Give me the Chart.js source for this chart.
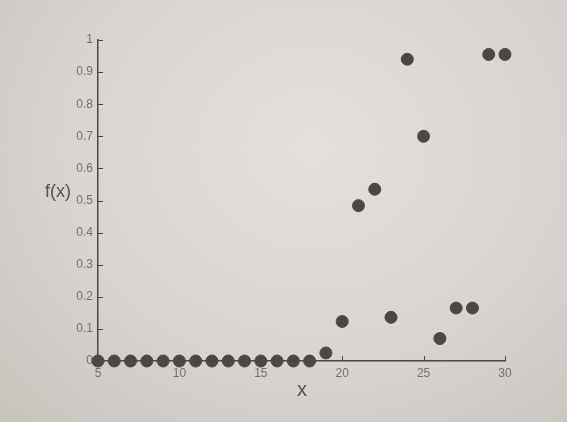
<!DOCTYPE html>
<html>
<head>
<meta charset="utf-8">
<script src="https://cdn.jsdelivr.net/npm/chart.js@4"></script>
<style>
  html, body { margin: 0; padding: 0; }
  body { width: 567px; height: 422px; overflow: hidden;
         background: radial-gradient(ellipse at 55% 35%, #e4e0dc 0%, #d9d4cf 55%, #c9c3be 100%); }
  #wrap { position: absolute; left: 0; top: 0; width: 567px; height: 422px; }
</style>
</head>
<body>
<div id="wrap"><canvas id="chart" width="567" height="422"></canvas></div>
<script>
// data
const xValues = [5, 6, 7, 8, 9, 10, 11, 12, 13, 14, 15, 16, 17, 18, 19, 20, 21, 22, 23, 24, 25, 26, 27, 28, 29, 30];
const fValues = [0, 0, 0, 0, 0, 0, 0, 0, 0, 0, 0, 0, 0, 0, 0.025, 0.123, 0.484, 0.535, 0.136, 0.94, 0.70, 0.07, 0.165, 0.165, 0.955, 0.955];
const xTicks = [5, 10, 15, 20, 25, 30];
const yTicks = [0, 0.1, 0.2, 0.3, 0.4, 0.5, 0.6, 0.7, 0.8, 0.9, 1];

const inkColor = "#4a4746";
const labelColor = "#75706c";

//! inward ticks + axis titles
const inwardTicks = {
  id: "inwardTicks",
  afterDraw(chart) {
    const { ctx, chartArea, scales } = chart;
    ctx.save();
    ctx.strokeStyle = inkColor;
    ctx.lineWidth = 1;
    xTicks.forEach((t) => {
      const px = Math.round(scales.x.getPixelForValue(t)) + 0.5;
      ctx.beginPath();
      ctx.moveTo(px, chartArea.bottom);
      ctx.lineTo(px, chartArea.bottom - 5);
      ctx.stroke();
    });
    yTicks.forEach((t) => {
      const py = Math.round(scales.y.getPixelForValue(t)) + 0.5;
      ctx.beginPath();
      ctx.moveTo(chartArea.left, py);
      ctx.lineTo(chartArea.left + 5, py);
      ctx.stroke();
    });
    ctx.fillStyle = "#55514f";
    ctx.font = "18px 'Liberation Sans', Arial, sans-serif";
    ctx.textAlign = "center";
    ctx.textBaseline = "middle";
    ctx.fillText("f(x)", 58, 192);
    ctx.font = "20px 'Liberation Sans', Arial, sans-serif";
    ctx.fillText("x", 302, 390);
    ctx.restore();
  },
};

new Chart(document.getElementById("chart"), {
  type: "scatter",
  data: {
    datasets: [
      {
        label: "f(x)",
        data: xValues.map((x, i) => ({ x: x, y: fValues[i] })),
        backgroundColor: inkColor,
        borderColor: inkColor,
        pointRadius: 6,
        pointHoverRadius: 6,
        clip: false,
      },
    ],
  },
  options: {
    responsive: false,
    animation: false,
    layout: { padding: { left: 10, right: 62, top: 40, bottom: 10 } },
    plugins: { legend: { display: false }, tooltip: { enabled: false } },
    scales: {
      x: {
        type: "linear",
        min: 5,
        max: 30,
        afterBuildTicks: (scale) => { scale.ticks = xTicks.map((v) => ({ value: v })); },
        afterFit: (scale) => { scale.height = 51; },
        grid: { display: false, drawTicks: false },
        border: { display: true, color: inkColor, width: 1.5 },
        ticks: { color: labelColor, padding: 5, font: { size: 12, family: "'Liberation Sans', Arial, sans-serif" } },
      },
      y: {
        type: "linear",
        min: 0,
        max: 1,
        afterBuildTicks: (scale) => { scale.ticks = yTicks.map((v) => ({ value: v })); },
        afterFit: (scale) => { scale.width = 88; },
        grid: { display: false, drawTicks: false },
        border: { display: true, color: inkColor, width: 1.5 },
        ticks: {
          color: labelColor,
          padding: 5,
          font: { size: 12, family: "'Liberation Sans', Arial, sans-serif" },
          callback: (v) => String(Math.round(v * 10) / 10),
        },
      },
    },
  },
  plugins: [inwardTicks],
});
</script>
</body>
</html>
